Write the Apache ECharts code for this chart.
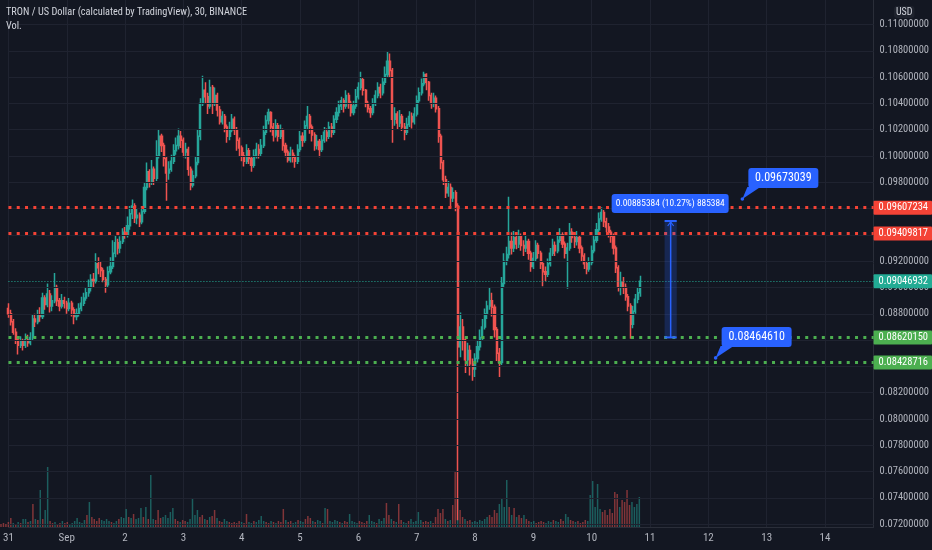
<!DOCTYPE html>
<html>
<head>
<meta charset="utf-8">
<script src="https://cdn.jsdelivr.net/npm/echarts@6/dist/echarts.min.js"></script>
<style>
  html, body { margin: 0; padding: 0; background: #131722; }
  #chart { width: 932px; height: 550px; }
</style>
</head>
<body>
<div id="chart"></div>
<script>
// TRX/USD (BINANCE) – candles, one candle per hour
// prices are in 1e-5 USD (8800 = 0.08800)
const dayLabels = ['31', 'Sep', '2', '3', '4', '5', '6', '7', '8', '9', '10', '11', '12', '13', '14'];
const slotsPerDay = 24;
const totalSlots = 357;

const firstOpen = 8840;
const closes = [
  8800, 8740, 8660, 8600, 8560, 8590, 8560, 8600, 8580, 8620, 8760, 8740, 8790, 8780, 8920, 8870, 8950, 8860, 8900, 9000, 8900, 8860, 8900, 8880,
  8840, 8880, 8830, 8780, 8800, 8840, 8880, 8920, 8960, 9000, 9060, 9050, 9180, 9150, 9130, 9060, 9020, 9120, 9160, 9260, 9340, 9300, 9350, 9420,
  9400, 9470, 9560, 9620, 9530, 9550, 9500, 9580, 9760, 9880, 9800, 9900, 9830, 10000, 10150, 10080, 9980, 9870, 9900, 9960, 10040, 10080, 10150, 10120,
  10030, 10050, 9900, 9780, 9850, 9950, 10150, 10400, 10500, 10450, 10380, 10520, 10400, 10460, 10350, 10260, 10300, 10220, 10150, 10200, 10280, 10200, 10120, 10060,
  10000, 9960, 10040, 9980, 9930, 10000, 10050, 10020, 10080, 10180, 10270, 10330, 10220, 10160, 10230, 10150, 10200, 10080, 10030, 9970, 10020, 9990, 9960, 10050,
  10150, 10120, 10230, 10300, 10220, 10160, 10080, 10110, 10050, 10120, 10180, 10150, 10220, 10180, 10280, 10330, 10380, 10420, 10380, 10460, 10400, 10330, 10380, 10450,
  10520, 10580, 10500, 10400, 10360, 10330, 10400, 10460, 10520, 10480, 10560, 10620, 10720, 10650, 10280, 10320, 10250, 10300, 10220, 10180, 10240, 10300, 10260, 10320,
  10420, 10480, 10550, 10620, 10560, 10460, 10400, 10440, 10360, 10150, 9950, 9820, 9720, 9760, 9680, 9720, 9620, 8550, 8700, 8600, 8450, 8520, 8420, 8380,
  8460, 8550, 8620, 8700, 8800, 8860, 8900, 8850, 8680, 8500, 8430, 9030, 9200, 9250, 9350, 9300, 9380, 9330, 9390, 9320, 9300, 9350, 9260, 9160,
  9220, 9320, 9260, 9180, 9120, 9100, 9180, 9260, 9320, 9280, 9360, 9400, 9330, 9260, 9300, 9420, 9380, 9350, 9380, 9300, 9240, 9180, 9140, 9190,
  9280, 9360, 9440, 9520, 9570, 9500, 9460, 9420, 9390, 9300, 9150, 9010, 9040, 9000, 8930, 8860, 8720, 8820, 8910, 8960, 9046.932
];
const highs = [
  8880, 8830, 8760, 8690, 8620, 8630, 8610, 8650, 8640, 8660, 8790, 8800, 8830, 8850, 8960, 8940, 9030, 8980, 8940, 9110, 9020, 8920, 8950, 8930,
  8900, 8920, 8900, 8850, 8840, 8880, 8930, 8960, 9000, 9060, 9100, 9110, 9260, 9230, 9200, 9150, 9080, 9160, 9230, 9360, 9400, 9370, 9390, 9450,
  9460, 9540, 9620, 9670, 9640, 9600, 9570, 9620, 9800, 9950, 9900, 9970, 9920, 10120, 10200, 10170, 10100, 10000, 9960, 10010, 10090, 10140, 10210, 10190,
  10140, 10100, 10070, 9920, 9890, 10000, 10200, 10440, 10610, 10560, 10480, 10580, 10540, 10520, 10480, 10380, 10340, 10320, 10240, 10260, 10320, 10300, 10220, 10140,
  10080, 10030, 10090, 10060, 10000, 10050, 10100, 10090, 10130, 10230, 10310, 10360, 10340, 10250, 10280, 10250, 10240, 10210, 10100, 10050, 10070, 10050, 10010, 10090,
  10190, 10180, 10270, 10380, 10320, 10240, 10180, 10160, 10130, 10160, 10220, 10210, 10260, 10250, 10310, 10370, 10420, 10450, 10440, 10500, 10480, 10420, 10420, 10510,
  10560, 10640, 10600, 10510, 10420, 10380, 10440, 10500, 10560, 10550, 10600, 10680, 10790, 10780, 10670, 10370, 10340, 10350, 10320, 10250, 10290, 10340, 10330, 10370,
  10460, 10520, 10590, 10640, 10630, 10570, 10480, 10480, 10460, 10380, 10170, 9970, 9850, 9810, 9790, 9760, 9740, 9640, 8810, 8760, 8630, 8580, 8560, 8460,
  8500, 8600, 8680, 8760, 8840, 8900, 9000, 8960, 8870, 8700, 8540, 9080, 9260, 9310, 9690, 9420, 9430, 9410, 9440, 9410, 9360, 9400, 9370, 9280,
  9270, 9360, 9340, 9280, 9200, 9160, 9220, 9300, 9370, 9350, 9410, 9450, 9420, 9350, 9340, 9490, 9450, 9420, 9430, 9400, 9320, 9260, 9200, 9230,
  9320, 9400, 9490, 9570, 9610, 9590, 9530, 9490, 9440, 9410, 9320, 9170, 9120, 9080, 9030, 8950, 8880, 8860, 8950, 9000, 9090
];
const lows = [
  8770, 8710, 8640, 8570, 8490, 8540, 8520, 8540, 8550, 8560, 8600, 8700, 8720, 8740, 8760, 8830, 8850, 8810, 8820, 8880, 8860, 8820, 8840, 8840,
  8800, 8820, 8780, 8720, 8750, 8780, 8820, 8860, 8900, 8930, 8970, 9000, 9030, 9100, 9080, 9040, 8960, 9000, 9100, 9140, 9230, 9250, 9260, 9330,
  9370, 9380, 9440, 9520, 9490, 9480, 9460, 9480, 9560, 9740, 9760, 9780, 9780, 9810, 9980, 10030, 9920, 9660, 9820, 9880, 9940, 10010, 10050, 10060,
  9990, 9980, 9850, 9740, 9760, 9830, 9930, 10120, 10380, 10400, 10320, 10360, 10320, 10380, 10300, 10240, 10240, 10180, 10100, 10120, 10180, 10160, 10040, 10000,
  9960, 9920, 9940, 9940, 9880, 9910, 9980, 9980, 10000, 10060, 10160, 10240, 10180, 10110, 10140, 10110, 10130, 10040, 9990, 9950, 9950, 9950, 9910, 9940,
  10030, 10070, 10100, 10200, 10170, 10110, 10040, 10050, 9990, 10030, 10100, 10110, 10130, 10140, 10160, 10250, 10300, 10350, 10330, 10360, 10360, 10300, 10310, 10360,
  10430, 10500, 10460, 10370, 10330, 10290, 10310, 10380, 10440, 10440, 10460, 10540, 10600, 10600, 10100, 10230, 10200, 10220, 10190, 10120, 10160, 10220, 10210, 10240,
  10300, 10400, 10460, 10530, 10500, 10420, 10360, 10370, 10330, 10100, 9900, 9780, 9680, 9690, 9600, 9650, 9580, 7230, 8470, 8520, 8350, 8400, 8330, 8290,
  8320, 8430, 8520, 8600, 8680, 8760, 8830, 8780, 8620, 8440, 8320, 8410, 9000, 9170, 9220, 9250, 9270, 9290, 9300, 9280, 9240, 9270, 9210, 9120,
  9140, 9200, 9220, 9140, 9010, 9050, 9080, 9160, 9240, 9240, 9260, 9340, 9300, 9220, 8990, 9280, 9340, 9300, 9320, 9260, 9200, 9140, 9100, 9120,
  9170, 9260, 9340, 9420, 9500, 9460, 9420, 9380, 9340, 9250, 9110, 8970, 8940, 8950, 8900, 8820, 8610, 8690, 8800, 8880, 8930
];
// relative volume
const volumes = [
  3, 4, 3, 5, 9, 4, 3, 5, 4, 8, 8, 5, 6, 23, 8, 7, 37, 8, 17, 60, 6, 4, 5, 3,
  4, 6, 4, 5, 3, 4, 6, 9, 5, 4, 7, 12, 25, 10, 8, 6, 9, 7, 6, 8, 6, 5, 4, 6,
  8, 10, 9, 18, 10, 9, 13, 8, 9, 19, 10, 20, 8, 52, 8, 7, 17, 9, 10, 12, 9, 15, 19, 8,
  6, 5, 7, 6, 5, 8, 28, 12, 17, 10, 12, 8, 7, 10, 11, 17, 9, 6, 5, 8, 6, 5, 4, 5,
  4, 6, 5, 4, 13, 5, 4, 6, 5, 7, 11, 6, 5, 4, 6, 5, 4, 6, 5, 18, 7, 5, 6, 4,
  5, 7, 6, 5, 8, 11, 9, 6, 5, 7, 6, 4, 19, 18, 6, 5, 7, 6, 5, 4, 6, 5, 13, 6,
  5, 4, 6, 5, 4, 6, 12, 6, 5, 4, 8, 6, 9, 24, 12, 8, 6, 5, 23, 7, 5, 4, 6, 8,
  5, 6, 15, 7, 5, 6, 5, 6, 4, 10, 18, 14, 18, 8, 6, 7, 22, 56, 30, 17, 10, 8, 6, 7,
  5, 6, 5, 7, 6, 8, 10, 12, 10, 17, 14, 23, 28, 20, 47, 20, 12, 19, 10, 12, 9, 12, 8, 6,
  5, 6, 4, 5, 6, 5, 4, 6, 5, 7, 6, 5, 8, 6, 13, 10, 7, 6, 5, 6, 4, 5, 7, 6,
  32, 46, 20, 43, 18, 15, 17, 12, 18, 14, 35, 33, 20, 27, 25, 37, 22, 25, 20, 23, 30
];

const yTicks = [0.072, 0.074, 0.076, 0.078, 0.080, 0.082, 0.084, 0.086, 0.088, 0.090,
  0.092, 0.094, 0.096, 0.098, 0.100, 0.102, 0.104, 0.106, 0.108, 0.110];
const redLevels = [0.09607234, 0.09409817];
const greenLevels = [0.08620150, 0.08428716];
const lastPrice = 0.09046932;
// price callouts: [slot, price]
const callouts = [[302, 0.09673039], [291, 0.08464610]];
// price range tool: from / to [slot, price]
const rangeStart = [270, 0.08620150];
const rangeEnd = [275, 0.09505534];
const rangeText = '0.00885384 (10.27%) 885384';

const FONT = '"Liberation Sans Narrow", "Roboto Condensed", Roboto, sans-serif';
const GRID = '#1f2330';
const AXIS_TXT = '#b2b5be';
const UP = '#26a69a', DOWN = '#ef5350';
const RED = '#f44336', GREEN = '#4caf50', TEAL = '#22ab94', BLUE = '#2962ff';

const cats = [];
for (let i = 0; i < totalSlots; i++) cats.push(Math.floor(i / slotsPerDay) + ':' + (i % slotsPerDay));
const dayStart = idx => idx % slotsPerDay === 0;

const opens = closes.map((c, i) => i === 0 ? firstOpen : closes[i - 1]);
const toPrice = v => v / 1e5;
const candleData = closes.map((c, i) => [toPrice(opens[i]), toPrice(c), toPrice(lows[i]), toPrice(highs[i])]);
const volData = volumes.map((v, i) => ({
  value: v,
  itemStyle: { color: closes[i] >= opens[i] ? 'rgba(38,166,154,0.5)' : 'rgba(239,83,80,0.5)' }
}));

function levelLine(p, color, dash, width) {
  return {
    yAxis: p,
    lineStyle: { color: color, type: dash, width: width, cap: 'butt' },
    label: {
      show: true, position: 'end', distance: 0,
      formatter: p.toFixed(8),
      color: '#fff', backgroundColor: color, padding: [2, 4, 1, 5],
      fontSize: 10.5, fontFamily: FONT, borderRadius: 1
    }
  };
}

const chart = echarts.init(document.getElementById('chart'));
chart.setOption({
  animation: false,
  backgroundColor: '#131722',
  textStyle: { fontFamily: FONT },
  grid: [
    { left: 1, right: 57, top: 0, bottom: 23 },
    { left: 1, right: 57, bottom: 23, height: 100 }
  ],
  xAxis: [
    {
      type: 'category', data: cats, boundaryGap: false, gridIndex: 0,
      axisLine: { show: true, lineStyle: { color: '#2a2e39' } },
      axisTick: { show: false },
      axisLabel: {
        interval: dayStart, showMinLabel: true, margin: 6,
        color: AXIS_TXT, fontSize: 11, fontFamily: FONT,
        formatter: v => dayLabels[+v.split(':')[0]]
      },
      splitLine: { show: true, interval: dayStart, lineStyle: { color: GRID, width: 1 } }
    },
    { type: 'category', data: cats, boundaryGap: false, gridIndex: 1, show: false }
  ],
  yAxis: [
    {
      type: 'value', position: 'right', gridIndex: 0,
      min: 0.071785, max: 0.111863,
      axisLine: { show: true, lineStyle: { color: '#2a2e39' } },
      axisTick: { show: false },
      splitLine: { show: false },
      axisLabel: {
        customValues: yTicks, margin: 6, color: AXIS_TXT, fontSize: 10.5, fontFamily: FONT,
        formatter: v => v.toFixed(8)
      }
    },
    { type: 'value', gridIndex: 1, min: 0, max: 100, show: false }
  ],
  series: [
    {
      name: 'grid', type: 'line', data: [], z: 1, silent: true,
      markLine: {
        silent: true, symbol: ['none', 'none'], animation: false, precision: 8,
        label: { show: false },
        lineStyle: { color: GRID, type: 'solid', width: 1 },
        data: yTicks.map(v => ({ yAxis: v }))
      }
    },
    {
      name: 'TRXUSD', type: 'candlestick', data: candleData, z: 3,
      barWidth: 1.6,
      itemStyle: { color: UP, color0: DOWN, borderColor: UP, borderColor0: DOWN, borderWidth: 1.5 }
    },
    {
      name: 'Vol', type: 'bar', xAxisIndex: 1, yAxisIndex: 1, data: volData, z: 2,
      barWidth: 1.5
    },
    {
      name: 'levels', type: 'line', data: [], z: 5, silent: true,
      markLine: {
        silent: true, symbol: ['none', 'none'], animation: false, precision: 8,
        data: [
          ...redLevels.map(p => levelLine(p, RED, [3, 5.3], 3)),
          ...greenLevels.map(p => levelLine(p, GREEN, [3, 5.3], 3)),
          levelLine(lastPrice, TEAL, [1, 2], 1)
        ]
      }
    }
  ]
});

// drawings placed through the chart's own scales
const px = (i, p) => chart.convertToPixel({ xAxisIndex: 0, yAxisIndex: 0 }, [i, p]);
const g = [];

// header
g.push({ type: 'text', x: 6, y: 7, z: 20, style: { text: 'TRON / US Dollar (calculated by TradingView), 30, BINANCE', fill: '#d1d4dc', fontSize: 10.3, fontFamily: FONT } });
g.push({ type: 'text', x: 6, y: 21, z: 20, style: { text: 'Vol.', fill: '#d1d4dc', fontSize: 10.3, fontFamily: FONT } });
g.push({ type: 'text', x: 894, y: 6, z: 20, style: { text: 'USD', fill: '#d1d4dc', fontSize: 10, fontFamily: FONT, backgroundColor: '#1e222d', padding: [1, 2], borderRadius: 3 } });

// price range box
const a = px(rangeStart[0], rangeEnd[1]);
const b = px(rangeEnd[0], rangeStart[1]);
const mid = (a[0] + b[0]) / 2;
g.push({ type: 'rect', z: 10, shape: { x: a[0], y: a[1], width: b[0] - a[0], height: b[1] - a[1] }, style: { fill: 'rgba(41,98,255,0.22)' } });
g.push({ type: 'line', z: 11, shape: { x1: a[0], y1: a[1], x2: b[0], y2: a[1] }, style: { stroke: BLUE, lineWidth: 2 } });
g.push({ type: 'line', z: 11, shape: { x1: a[0], y1: b[1], x2: b[0], y2: b[1] }, style: { stroke: BLUE, lineWidth: 2 } });
g.push({ type: 'line', z: 11, shape: { x1: mid, y1: b[1], x2: mid, y2: a[1] + 1 }, style: { stroke: BLUE, lineWidth: 1.5 } });
g.push({ type: 'polyline', z: 11, shape: { points: [[mid - 3, a[1] + 5], [mid, a[1] + 1], [mid + 3, a[1] + 5]] }, style: { stroke: BLUE, lineWidth: 1.2, fill: null } });
g.push({ type: 'rect', z: 12, shape: { x: mid - 59, y: a[1] - 27, width: 117, height: 19, r: 3 }, style: { fill: BLUE } });
g.push({ type: 'text', z: 13, x: mid - 0.5, y: a[1] - 17.5, style: { text: rangeText, fill: '#fff', fontSize: 9.4, fontFamily: FONT, align: 'center', verticalAlign: 'middle' } });

// callouts
callouts.forEach(([i, p]) => {
  const c = px(i, p);
  const bx = c[0] + 6, by = c[1] - 31;
  g.push({ type: 'polygon', z: 12, shape: { points: [[c[0], c[1]], [bx - 1, by + 19], [bx + 12, by + 19]] }, style: { fill: BLUE } });
  g.push({ type: 'rect', z: 12, shape: { x: bx, y: by, width: 70, height: 20, r: 3 }, style: { fill: BLUE } });
  g.push({ type: 'circle', z: 13, shape: { cx: c[0], cy: c[1], r: 1.8 }, style: { fill: BLUE } });
  g.push({ type: 'text', z: 13, x: bx + 35, y: by + 10, style: { text: p.toFixed(8), fill: '#fff', fontSize: 12, fontFamily: FONT, align: 'center', verticalAlign: 'middle' } });
});

chart.setOption({ graphic: g });
</script>
</body>
</html>
